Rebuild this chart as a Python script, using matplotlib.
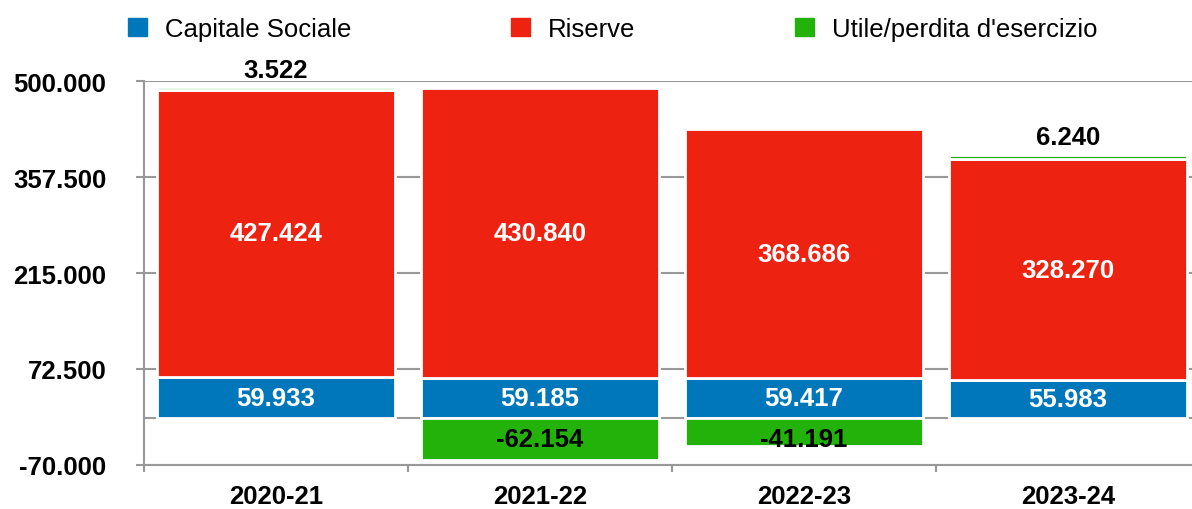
import matplotlib
matplotlib.use("Agg")
import matplotlib.pyplot as plt
from matplotlib.patches import Patch

# Data (euro)
years = ["2020-21", "2021-22", "2022-23", "2023-24"]
capitale = [59933, 59185, 59417, 55983]
riserve = [427424, 430840, 368686, 328270]
utile = [3522, -62154, -41191, 6240]
y_ticks = [-70000, 72500, 215000, 357500, 500000]

BLUE = "#0077bb"
RED = "#ee2211"
GREEN = "#22b20a"
GRAY = "#999999"

plt.rcParams["font.family"] = ["Liberation Sans", "DejaVu Sans"]


def fmt(v):
    # italian thousands separator
    return f"{v:,.0f}".replace(",", ".")


fig = plt.figure(figsize=(11.92, 5.10), dpi=100)
ax = fig.add_axes([144 / 1192, 44 / 510, 1 - 144 / 1192, (466 - 82) / 510])

x = list(range(len(years)))
w = 0.9
bar_kw = dict(width=w, edgecolor="white", linewidth=2, zorder=3)

ax.bar(x, capitale, color=BLUE, **bar_kw)
ax.bar(x, riserve, bottom=capitale, color=RED, **bar_kw)
tops = [c + r for c, r in zip(capitale, riserve)]
ut_bottom = [t if u > 0 else 0 for t, u in zip(tops, utile)]
ax.bar(x, utile, bottom=ut_bottom, color=GREEN, **bar_kw)

FS = 18.5
lbl = dict(ha="center", va="center", fontsize=FS, fontweight="bold", zorder=5)
for i in x:
    ax.text(i, capitale[i] / 2, fmt(capitale[i]), color="white", **lbl)
    ax.text(i, capitale[i] + riserve[i] / 2, fmt(riserve[i]), color="white", **lbl)
    u = utile[i]
    if u > 0:
        ax.annotate(fmt(u), (i, ut_bottom[i] + u), xytext=(0, 4), textcoords="offset points",
                    ha="center", va="bottom", fontsize=FS, fontweight="bold", color="black", zorder=5)
    else:
        ax.text(i, min(u / 2, -31000), fmt(u), color="black", **lbl)

# axes styling
ax.set_xlim(-0.5, -0.5 + 1048 / 264)
ax.set_ylim(y_ticks[0], y_ticks[-1])
ax.set_yticks(y_ticks)
ax.set_yticklabels([fmt(v) for v in y_ticks], fontsize=FS, fontweight="bold")
ax.set_xticks(x)
ax.set_xticklabels(years, fontsize=FS, fontweight="bold")
ax.set_xticks([-0.5, 0.5, 1.5, 2.5], minor=True)
ax.tick_params(axis="x", which="major", length=0, pad=14)
ax.tick_params(axis="x", which="minor", length=5, width=1.5, color=GRAY)
ax.tick_params(axis="y", length=6, width=1.5, color=GRAY, pad=21)

for s in ["top", "right"]:
    ax.spines[s].set_visible(False)
for s in ["left", "bottom"]:
    ax.spines[s].set_color(GRAY)
    ax.spines[s].set_linewidth(1.5)

ax.yaxis.grid(True, color=GRAY, linewidth=1.5, zorder=0)
ax.set_axisbelow(True)
ax.axhline(0, color=GRAY, linewidth=1.5, zorder=1)

handles = [Patch(color=BLUE), Patch(color=RED), Patch(color=GREEN)]
fig.legend(handles, ["Capitale Sociale", "Riserve", "Utile/perdita d'esercizio"],
           loc="center left", bbox_to_anchor=(115 / 1192, 1 - 30 / 510), ncol=3,
           frameon=False, fontsize=FS, handlelength=0.75, handleheight=0.75,
           handletextpad=0.7, columnspacing=6.2, borderpad=0)

fig.savefig("out.png", dpi=100)
